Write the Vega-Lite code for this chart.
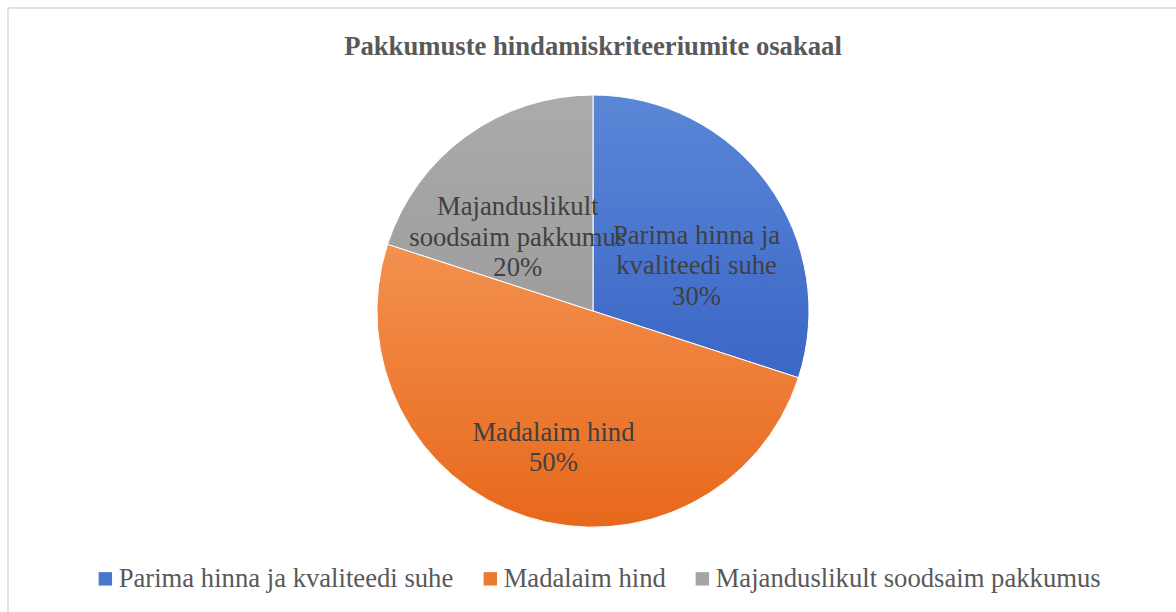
{
  "$schema": "https://vega.github.io/schema/vega-lite/v6.json",
  "autosize": "none",
  "width": 1170,
  "height": 606,
  "padding": {"left": 8, "top": 8, "right": 0, "bottom": 0},
  "background": "white",
  "view": {"stroke": "#D9D9D9", "strokeWidth": 1.5, "fill": "white"},
  "config": {
    "font": "Liberation Serif",
    "legend": {"labelFont": "Liberation Serif"}
  },
  "title": {
    "text": "Pakkumuste hindamiskriteeriumite osakaal",
    "font": "Liberation Serif",
    "fontSize": 26.67,
    "fontWeight": "bold",
    "color": "#595959",
    "anchor": "middle",
    "frame": "group",
    "orient": "top",
    "offset": -74,
    "baseline": "alphabetic"
  },
  "data": {
    "values": [
      {"category": "Parima hinna ja kvaliteedi suhe", "share": 30, "i": 1, "label": "Parima hinna ja\nkvaliteedi suhe\n30%"},
      {"category": "Madalaim hind", "share": 50, "i": 2, "label": "Madalaim hind\n50%"},
      {"category": "Majanduslikult soodsaim pakkumus", "share": 20, "i": 3, "label": "Majanduslikult\nsoodsaim pakkumus\n20%"}
    ]
  },
  "encoding": {
    "theta": {"field": "share", "type": "quantitative", "stack": true},
    "order": {"field": "i", "type": "quantitative"}
  },
  "layer": [
    {
      "mark": {"type": "arc", "outerRadius": 216, "opacity": 0},
      "encoding": {
        "color": {
          "field": "category",
          "type": "nominal",
          "sort": ["Parima hinna ja kvaliteedi suhe", "Madalaim hind", "Majanduslikult soodsaim pakkumus"],
          "scale": {
            "domain": ["Parima hinna ja kvaliteedi suhe", "Madalaim hind", "Majanduslikult soodsaim pakkumus"],
            "range": ["#4A77CE", "#EE7A32", "#A5A5A5"]
          },
          "legend": {
            "title": null,
            "orient": "none",
            "direction": "horizontal",
            "legendX": 84,
            "legendY": 557,
            "symbolType": "square",
            "symbolSize": 180,
            "symbolStrokeWidth": 0,
            "symbolOpacity": 1,
            "labelFont": "Liberation Serif",
            "labelFontSize": 26.67,
            "labelColor": "#595959",
            "labelOffset": 0,
            "labelLimit": 600,
            "columnPadding": 23
          }
        }
      }
    },
    {
      "mark": {"type": "arc", "outerRadius": 216, "stroke": "white", "strokeWidth": 1},
      "encoding": {
        "fill": {
          "condition": [
            {"test": "datum.i === 1", "value": {"gradient": "linear", "x1": 0, "y1": 0, "x2": 0, "y2": 1, "stops": [{"offset": 0, "color": "#5B87D7"}, {"offset": 1, "color": "#3A66C6"}]}},
            {"test": "datum.i === 2", "value": {"gradient": "linear", "x1": 0, "y1": 0, "x2": 0, "y2": 1, "stops": [{"offset": 0, "color": "#F3914F"}, {"offset": 1, "color": "#E7681B"}]}}
          ],
          "value": {"gradient": "linear", "x1": 0, "y1": 0, "x2": 0, "y2": 1, "stops": [{"offset": 0, "color": "#ABABAB"}, {"offset": 1, "color": "#9D9D9D"}]}
        }
      }
    },
    {
      "mark": {
        "type": "text",
        "radius": 128,
        "font": "Liberation Serif",
        "fontSize": 26.67,
        "color": "#404040",
        "lineBreak": "\n",
        "lineHeight": 30.5,
        "align": "center",
        "baseline": "middle"
      },
      "encoding": {
        "text": {"field": "label", "type": "nominal"}
      }
    }
  ]
}
